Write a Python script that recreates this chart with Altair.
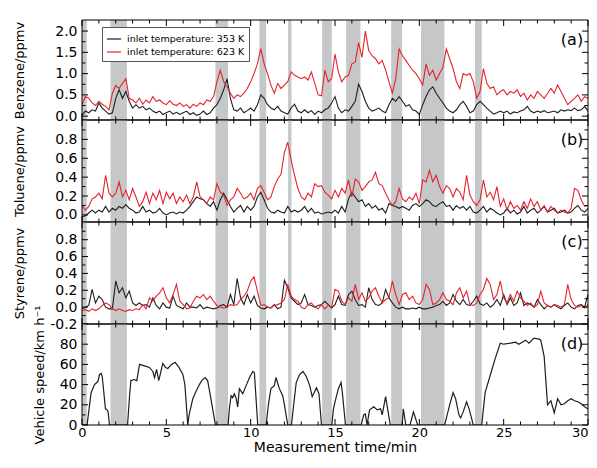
import altair as alt
import pandas as pd

FONT = "DejaVu Sans"
W = 506
X_DOMAIN = [0, 30]
BAND = "#c5c7c9"

# sampling grid of the gas records (minutes)
time_min = [round(0.2 * i, 1) for i in range(153)]

benzene_353 = [0.02,0.12,0.08,0.15,0.12,0.31,0.19,0.12,0.05,0.08, 0.42,0.62,0.42,0.58,0.35,0.19,0.27,0.19,0.23,0.15,
               0.19,0.12,0.08,0.12,0.04,0.08,0.12,0.05,0.09,0.04, 0.08,0.12,0.04,0.08,0.02,0.05,0.12,0.04,0.08,0.19,
               0.27,0.42,0.62,0.88,0.42,0.15,0.12,0.19,0.08,0.13, 0.19,0.12,0.27,0.50,0.42,0.27,0.19,0.15,0.23,0.12,
               0.08,0.05,0.19,0.28,0.12,
               0.08,0.15,0.08,0.13,0.04,0.12,0.08,0.15,0.19,0.31, 0.46,0.19,0.08,0.15,0.12,0.23,0.35,0.75,0.58,0.35,
               0.19,0.12,0.15,0.19,0.12,0.08,0.27,0.42,0.35,0.46, 0.35,0.23,0.27,0.15,0.12,0.04,0.27,0.46,0.62,0.69,
               0.54,0.42,0.31,0.19,0.12,0.08,0.15,0.27,0.35,0.23, 0.08,0.12,0.27,0.35,0.27,0.19,0.12,0.05,0.08,0.12,
               0.08,0.12,0.05,0.10,0.08,0.12,0.15,0.23,0.12,0.08, 0.12,0.09,0.13,0.08,0.10,0.12,0.08,0.15,0.12,0.15,
               0.13,0.19,0.13,0.15,0.23,0.12,0.08,0.10]
benzene_623 = [0.27,0.46,0.42,0.31,0.25,0.35,0.28,0.23,0.15,0.54, 0.72,0.65,0.77,0.88,0.42,0.38,0.31,0.42,0.28,0.38,
               0.31,0.46,0.35,0.38,0.31,0.27,0.36,0.28,0.25,0.31, 0.23,0.27,0.19,0.28,0.23,0.31,0.27,0.38,0.35,0.46,
               0.81,1.08,0.81,0.69,0.54,0.42,0.50,0.46,0.54,0.65, 0.81,1.00,1.23,1.59,1.23,1.00,0.73,0.54,0.77,0.65,
               0.73,0.81,1.04,0.96,0.92,
               0.88,0.92,0.85,1.04,0.77,0.50,0.48,1.08,0.81,0.88, 1.46,1.04,0.81,0.92,0.96,1.23,1.27,1.73,1.38,2.00,
               1.54,1.42,1.35,1.23,1.31,1.08,0.81,0.54,0.88,1.58, 1.42,1.31,1.19,1.08,1.00,0.88,0.73,1.23,0.96,1.08,
               0.85,1.00,1.15,1.58,1.35,1.12,0.81,0.65,1.00,0.96, 1.00,0.81,0.42,0.58,1.12,0.77,0.65,0.69,0.50,0.58,
               0.62,0.50,0.58,0.54,0.62,0.46,0.54,0.38,0.50,0.42, 0.58,0.50,0.42,0.54,0.65,0.54,0.73,0.58,0.42,0.27,
               0.35,0.42,0.50,0.35,0.46,0.42,0.46,0.40]
toluene_353 = [-0.02,-0.01,0.02,0.05,0.02,0.05,0.03,0.09,0.03,0.07, 0.05,0.09,0.07,0.11,0.07,0.05,0.02,0.03,0.09,0.03,
               0.05,0.02,0.03,0.07,0.02,0.00,0.02,0.03,0.01,0.03, 0.02,0.05,0.09,0.14,0.19,0.17,0.16,0.12,0.09,0.14,
               0.05,0.16,0.23,0.16,0.09,0.03,0.07,0.10,0.03,0.09, 0.05,0.09,0.19,0.24,0.16,0.07,0.03,0.02,0.05,0.03,
               0.02,0.09,0.03,0.05,0.03,
               0.05,0.09,0.03,0.07,0.02,0.03,0.01,0.02,0.03,0.02, 0.05,0.02,0.09,0.03,0.17,0.24,0.19,0.14,0.16,0.09,
               0.12,0.07,0.10,0.05,0.07,0.02,0.12,0.10,0.09,0.07, 0.09,0.07,0.05,0.10,0.12,0.09,0.12,0.16,0.14,0.10,
               0.09,0.12,0.14,0.09,0.10,0.05,0.10,0.07,0.09,0.05, 0.09,0.03,0.02,0.05,0.09,0.03,0.07,0.05,0.02,0.00,
               0.02,0.07,0.02,0.05,0.01,0.03,0.09,0.02,0.05,0.07, 0.02,0.05,0.09,0.03,0.05,0.07,0.02,0.03,0.05,0.02,
               0.03,0.07,0.10,0.05,0.03,0.07,0.10,0.05]
toluene_623 = [0.10,0.05,0.09,0.17,0.19,0.23,0.17,0.42,0.23,0.19, 0.23,0.35,0.19,0.26,0.16,0.28,0.19,0.09,0.14,0.24,
               0.12,0.23,0.16,0.26,0.12,0.24,0.17,0.23,0.12,0.19, 0.14,0.21,0.12,0.19,0.35,0.19,0.16,0.12,0.19,0.16,
               0.33,0.24,0.21,0.10,0.16,0.19,0.28,0.23,0.17,0.19, 0.23,0.16,0.28,0.31,0.24,0.16,0.19,0.30,0.38,0.43,
               0.66,0.77,0.58,0.42,0.28,
               0.19,0.16,0.23,0.19,0.33,0.30,0.31,0.24,0.21,0.17, 0.26,0.19,0.28,0.23,0.37,0.19,0.38,0.35,0.26,0.30,
               0.35,0.37,0.45,0.33,0.31,0.23,0.16,0.10,0.14,0.28, 0.17,0.14,0.19,0.16,0.23,0.12,0.37,0.35,0.47,0.35,
               0.42,0.30,0.23,0.31,0.28,0.19,0.28,0.24,0.16,0.42, 0.21,0.14,0.10,0.16,0.37,0.19,0.24,0.16,0.30,0.09,
               0.17,0.05,0.14,0.07,0.10,0.05,0.14,0.07,0.17,0.09, 0.14,0.05,0.10,0.03,0.09,0.05,0.02,0.05,0.03,0.02,
               0.07,0.28,0.26,0.16,0.09,0.10,0.07,0.10]
styrene_353 = [-0.02,0.00,0.02,0.21,0.05,0.13,0.09,0.00,-0.02,-0.02, 0.31,0.17,0.23,0.11,0.19,0.05,0.02,0.05,0.02,0.03,
               0.00,0.11,0.02,-0.02,0.05,0.00,-0.01,0.13,0.02,0.00, -0.02,0.05,0.00,0.00,-0.01,0.03,-0.02,0.00,-0.01,-0.02,
               -0.01,0.02,0.03,0.00,0.15,0.03,0.34,0.11,0.03,0.15, 0.05,0.13,0.02,-0.01,-0.02,0.00,-0.01,0.03,-0.02,0.00,
               0.32,0.23,0.11,0.07,0.03,
               0.05,0.15,0.03,0.02,0.00,0.02,0.03,0.07,0.03,-0.01, 0.03,0.13,0.03,0.02,0.15,0.19,0.09,0.02,0.03,0.00,
               0.23,0.09,0.03,0.02,0.05,0.21,0.11,0.05,0.00,-0.02, 0.00,-0.02,-0.02,-0.01,-0.02,0.00,-0.02,-0.02,-0.01,0.00,
               0.02,0.03,0.07,0.02,0.05,0.15,0.07,0.03,0.09,0.03, 0.02,0.07,0.13,0.04,0.02,0.05,0.00,0.03,0.09,0.02,
               0.15,0.03,0.11,0.02,0.05,0.17,0.02,0.05,0.03,0.00, 0.09,0.03,-0.02,0.02,0.00,0.03,0.00,-0.02,0.02,0.05,
               0.00,-0.02,0.02,0.03,0.00,0.15,0.17,0.07]
styrene_623 = [-0.04,-0.03,-0.05,-0.02,-0.04,-0.02,0.02,0.05,0.03,-0.02, -0.04,-0.02,-0.04,-0.05,-0.03,-0.04,-0.02,-0.03,0.03,-0.02,
               0.11,0.07,0.13,0.17,0.23,0.11,0.05,0.15,0.27,0.07, 0.03,-0.02,-0.01,0.07,0.13,0.11,0.15,0.09,0.13,0.07,
               0.02,0.00,-0.01,0.00,0.03,0.02,0.03,0.09,0.13,0.19, 0.31,0.36,0.19,0.02,0.03,0.00,-0.01,0.02,0.03,0.05,
               0.09,0.27,0.13,0.09,0.07,
               0.00,-0.02,0.03,0.05,0.00,-0.02,0.03,-0.02,0.02,0.00, 0.21,0.19,0.07,0.03,0.11,0.07,0.27,0.09,0.17,0.07,
               0.11,0.19,0.23,0.13,0.05,0.09,0.11,0.31,0.15,0.03, 0.15,0.17,0.09,0.13,0.05,0.03,0.09,0.27,0.21,0.03,
               0.05,0.09,0.17,0.09,0.07,0.03,0.17,0.23,0.11,0.19, 0.03,0.02,0.05,0.15,0.21,0.34,0.27,0.09,0.15,0.31,
               0.11,0.05,0.15,0.07,0.19,0.11,0.07,0.02,0.05,0.00, 0.03,0.19,0.05,0.02,0.00,0.03,0.02,0.00,0.03,0.27,
               0.09,0.02,0.00,0.02,-0.01,0.03,0.02,0.03]

speed_time = [0,0.3,0.54,0.74,0.94,1.04,1.14,1.2,1.39,1.49,1.55,1.63,2.7,2.82,2.9,3.1,3.25,3.41,3.6,3.8,4.0,4.2,4.3,4.42,
              4.55,4.79,4.95,5.09,5.3,5.52,5.75,5.98,6.1,6.27,6.35,6.57,6.75,6.96,7.1,7.3,7.45,7.6,7.91,8.66,8.75,8.84,
              8.93,9.03,9.13,9.23,9.33,9.53,9.73,9.93,10.13,10.22,10.42,10.92,11.05,11.2,11.4,11.5,11.7,11.9,12.0,12.2,
              12.42,12.55,12.7,12.9,13.1,13.3,13.5,13.65,13.9,14.05,14.2,14.81,14.9,15.0,15.2,15.36,15.45,15.62,16.55,
              16.7,16.8,16.9,17.05,17.3,17.5,17.7,17.8,18.0,18.28,18.98,19.05,19.2,19.45,19.65,19.9,21.5,21.65,21.8,
              22.0,22.15,22.35,22.45,22.6,22.8,22.95,23.2,23.7,23.9,24.2,24.5,24.8,25.0,25.4,25.7,25.9,26.3,26.5,26.8,
              27.1,27.2,27.4,27.6,27.8,28.0,28.2,28.4,28.6,28.8,29.0,29.2,29.4,29.6,29.8,30.0,30.2,30.4]
speed_kmh = [0,0,32,40,43,50,51,48,16,15,13,0,0,29,44,45,44,60,59,58,57,53,47,55,
             44,61,57,56,60,62,57,50,40,0,10,26,33,40,44,47,44,30,0,0,18,29,
             27,31,27,18,36,31,39,47,53,52,0,0,20,36,39,47,36,29,20,0,
             0,20,42,50,53,48,39,28,37,31,0,0,15,23,36,42,30,0,0,
             10,11,0,15,18,15,16,10,28,0,0,16,0,0,13,0,0,10,20,
             32,26,10,7,13,23,16,0,0,32,49,66,81,80,81,82,80,84,81,86,
             85,84,68,20,24,12,26,20,21,24,26,24,23,21,18,16,20,0]

stop_start = [0.0, 1.69, 7.91, 10.52, 12.22, 14.24, 15.66, 18.33, 20.10, 23.30]
stop_end = [0.28, 2.66, 8.66, 10.92, 12.42, 14.81, 16.51, 18.98, 21.49, 23.70]

series_names = ["inlet temperature: 353 K", "inlet temperature: 623 K"]
series_colors = ["#1e1e1e", "#e5232d"]

for s in (benzene_353, benzene_623, toluene_353, toluene_623, styrene_353, styrene_623):
    assert len(s) == len(time_min), len(s)
assert len(speed_time) == len(speed_kmh), (len(speed_time), len(speed_kmh))

bands = pd.DataFrame({"start": stop_start, "end": stop_end})


def gas_frame(low, high):
    return pd.concat([
        pd.DataFrame({"t": time_min, "value": low, "series": series_names[0]}),
        pd.DataFrame({"t": time_min, "value": high, "series": series_names[1]}),
    ], ignore_index=True)


def xscale():
    return alt.Scale(domain=X_DOMAIN, nice=False, zero=False)


def panel(df, ydom, h, y_major, y_minor, label_expr, ytitle, letter, legend=None, show_x=False,
          single=False, title_x=-63):
    ysc = alt.Scale(domain=ydom, nice=False, zero=False)
    if show_x:
        xaxis = alt.Axis(values=[0, 5, 10, 15, 20, 25, 30], format="d", labelFontSize=13, labelPadding=1,
                         labelFlush=False, labelOverlap=False, labelBound=False,
                         labelAlign={"condition": {"test": "datum.value >= 30", "value": "right"},
                                     "value": "center"},
                         title="Measurement time/min", titleFontSize=14, titlePadding=1)
    else:
        xaxis = alt.Axis(values=[0, 5, 10, 15, 20, 25, 30], labels=False, title=None)
    yaxis = alt.Axis(values=y_major, labelExpr=label_expr, labelFontSize=14, labelPadding=5,
                     labelOverlap=False, labelBound=False, title=ytitle, titleFontSize=13, titleX=title_x,
                     titleBaseline="middle")

    def X(field):
        return alt.X(field, scale=xscale(), axis=xaxis)

    def Y(field):
        return alt.Y(field, scale=ysc, axis=yaxis)

    layers = []
    layers.append(alt.Chart(bands).mark_rect(color=BAND).encode(
        x=X("start:Q"), x2="end:Q", y=alt.value(0), y2=alt.value(h)))
    if single:
        layers.append(alt.Chart(df).mark_line(color=series_colors[0], strokeWidth=1.2, clip=True).encode(
            x=X("t:Q"), y=Y("value:Q")))
    else:
        layers.append(alt.Chart(df).mark_line(strokeWidth=1.1, clip=True).encode(
            x=X("t:Q"), y=Y("value:Q"),
            color=alt.Color("series:N", scale=alt.Scale(domain=series_names, range=series_colors),
                            legend=legend)))
    # inward ticks on all four sides
    xmaj = pd.DataFrame({"t": [0, 5, 10, 15, 20, 25, 30]})
    xmin = pd.DataFrame({"t": [i for i in range(31) if i % 5]})
    for d, L in ((xmaj, 6), (xmin, 3.5)):
        layers.append(alt.Chart(d).mark_rule(color="black", strokeWidth=1).encode(
            x=X("t:Q"), y=alt.value(0), y2=alt.value(L)))
        layers.append(alt.Chart(d).mark_rule(color="black", strokeWidth=1).encode(
            x=X("t:Q"), y=alt.value(h - L), y2=alt.value(h)))
    ymaj = pd.DataFrame({"value": y_major})
    ymin = pd.DataFrame({"value": y_minor})
    for d, L in ((ymaj, 6), (ymin, 3.5)):
        layers.append(alt.Chart(d).mark_rule(color="black", strokeWidth=1).encode(
            y=Y("value:Q"), x=alt.value(0), x2=alt.value(L)))
        layers.append(alt.Chart(d).mark_rule(color="black", strokeWidth=1).encode(
            y=Y("value:Q"), x=alt.value(W - L), x2=alt.value(W)))
    lab = pd.DataFrame({"label": [letter]})
    layers.append(alt.Chart(lab).mark_text(font=FONT, fontSize=16, color="black").encode(
        text="label:N", x=alt.value(W - 16), y=alt.value(19.5)))
    layers.append(alt.Chart(lab).mark_rect(fill=None, stroke="black", strokeWidth=1).encode(
        x=alt.value(0), x2=alt.value(W), y=alt.value(0), y2=alt.value(h)))
    return alt.layer(*layers).properties(width=W, height=h)


fmt1 = "datum.value < 0 ? '-' + format(-datum.value, '.1f') : format(datum.value, '.1f')"
fmt0 = "format(datum.value, 'd')"

legend = alt.Legend(title=None, orient="none", legendX=20, legendY=7, symbolType="stroke",
                    symbolStrokeWidth=1.2, symbolSize=200, labelFont=FONT, labelFontSize=9.5,
                    labelColor="black", strokeColor="#555555", fillColor="white", padding=4,
                    rowPadding=-3, labelOffset=5, labelLimit=300)

pa = panel(gas_frame(benzene_353, benzene_623), [-0.09, 2.26], 100,
           [0, 0.5, 1.0, 1.5, 2.0], [0.25, 0.75, 1.25, 1.75], fmt1, "Benzene/ppmv", "(a)", legend=legend)
pb = panel(gas_frame(toluene_353, toluene_623), [-0.075, 1.005], 102,
           [0, 0.2, 0.4, 0.6, 0.8], [0.1, 0.3, 0.5, 0.7, 0.9], fmt1, "Toluene/ppmv", "(b)")
pc = panel(gas_frame(styrene_353, styrene_623), [-0.2, 1.01], 102,
           [-0.2, 0, 0.2, 0.4, 0.6, 0.8], [-0.1, 0.1, 0.3, 0.5, 0.7, 0.9], fmt1, "Styrene/ppmv", "(c)")
pdd = panel(pd.DataFrame({"t": speed_time, "value": speed_kmh}), [0, 100], 101,
            [0, 20, 40, 60, 80], [10, 30, 50, 70, 90], fmt0, "Vehicle speed/km h\u207b\u00b9", "(d)",
            show_x=True, single=True, title_x=-43)

chart = alt.vconcat(pa, pb, pc, pdd, spacing=0, bounds="flush").properties(
    padding={"left": 5, "top": 11, "right": 0, "bottom": 0}
).configure_view(stroke=None).configure_axis(
    labelFont=FONT, titleFont=FONT, labelColor="black", titleColor="black",
    titleFontWeight="normal", grid=False, domain=False, ticks=False
)

chart.save("out.html", embed_options={"renderer": "svg", "actions": False})
